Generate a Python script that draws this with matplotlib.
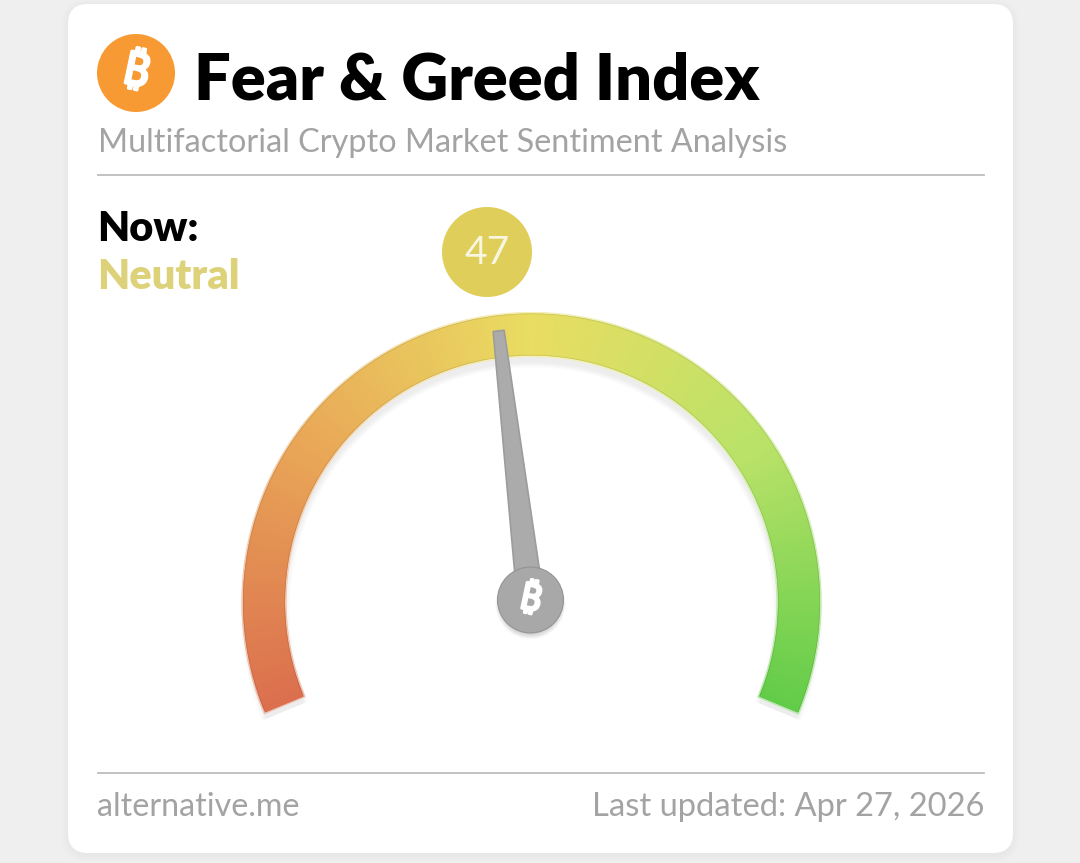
import numpy as np
import matplotlib
matplotlib.use('Agg')
import matplotlib.pyplot as plt
import matplotlib.patheffects as pe
from matplotlib.colors import LinearSegmentedColormap, to_rgb
from matplotlib.patches import Circle, FancyBboxPatch, Polygon, Wedge

value = 47
max_value = 100
sweep = 225
state = 'Neutral'
title = 'Fear & Greed Index'
subtitle = 'Multifactorial Crypto Market Sentiment Analysis'
source = 'alternative.me'
updated = 'Last updated: Apr 27, 2026'
stops = [0, 0.25, 0.5, 0.75, 1]
stop_colors = ['#DB6F4E', '#E9A657', '#E9DD62', '#B9E268', '#62CC49']

CX, CY = 531.5, 602
HX, HY = 530.5, 600
R_OUT, R_IN = 288.5, 246.5

plt.rcParams['font.family'] = ['Lato', 'DejaVu Sans']

fig = plt.figure(figsize=(10.8, 8.63), dpi=100, facecolor='#EFEFEF')
ax = fig.add_axes([0, 0, 1, 1])
ax.set_xlim(0, 1080)
ax.set_ylim(863, 0)
ax.axis('off')

# card with soft shadow
for i in range(8):
    ax.add_patch(FancyBboxPatch((68 - i, 4 - i + 2), 945 + 2 * i, 849 + 2 * i,
                                boxstyle='round,pad=0,rounding_size=%d' % (20 + i),
                                fc='#000000', ec='none', alpha=0.005))
ax.add_patch(FancyBboxPatch((68, 4), 945, 849, boxstyle='round,pad=0,rounding_size=20',
                            fc='white', ec='none'))


def bitcoin(x, y, size, stroke):
    t = ax.text(x, y, '\u20bf', family=['Noto Sans', 'Inter', 'Roboto', 'Open Sans', 'Liberation Sans'],
                fontweight='bold', fontsize=size, color='white', rotation=-12, ha='center', va='center')
    t.set_path_effects([pe.withStroke(linewidth=stroke, foreground='white')])


# header
ax.add_patch(Circle((136, 73), 39, fc='#F79A33', ec='none'))
bitcoin(136, 73, 33, 2)
ax.text(194, 81, title, fontsize=46.7, fontweight='heavy', color='black', va='center', ha='left')
ax.text(97.5, 143, subtitle, fontsize=23.3, color='#A3A3A3', va='center', ha='left')
ax.plot([98, 984], [175, 175], color='#BDBDBD', lw=1.3)

ax.text(97, 229, 'Now:', fontsize=30, fontweight='heavy', color='black', va='center', ha='left')
ax.text(97, 277, state, fontsize=30, fontweight='heavy', color='#DDD27A', va='center', ha='left')

# gauge: angle 0 is straight up, positive clockwise
cmap = LinearSegmentedColormap.from_list('gauge', list(zip(stops, stop_colors)))


def to_theta(frac):
    # data angle for Wedge on the inverted y axis
    return -90 + (frac - 0.5) * sweep


for i in range(6):
    ax.add_patch(Wedge((CX, CY + 7), R_OUT + 3 - i, to_theta(0), to_theta(1),
                       width=R_OUT - R_IN + 8 - 2 * i, fc='black', ec='none', alpha=0.012))
n = 300
for i in range(n):
    f0, f1 = i / n, (i + 1) / n
    c = np.array(cmap((f0 + f1) / 2)[:3])
    halo = c * 0.45 + np.array(to_rgb('white')) * 0.55
    ax.add_patch(Wedge((CX, CY), R_OUT + 1.5, to_theta(f0) - 0.3, to_theta(f1) + 0.4,
                       width=R_OUT - R_IN + 3, fc=halo, ec='none'))
for i in range(n):
    f0, f1 = i / n, (i + 1) / n
    c = np.array(cmap((f0 + f1) / 2)[:3])
    end = min(f1 + 0.004, 1)
    ax.add_patch(Wedge((CX, CY), R_OUT, to_theta(f0), to_theta(end),
                       width=R_OUT - R_IN, fc=c * 0.92, ec='none'))
for i in range(n):
    f0, f1 = i / n, (i + 1) / n
    c = np.array(cmap((f0 + f1) / 2)[:3])
    end = min(f1 + 0.004, 1)
    ax.add_patch(Wedge((CX, CY), R_OUT - 1, to_theta(f0), to_theta(end),
                       width=R_OUT - R_IN - 2, fc=c, ec='none'))

# needle
ang = np.radians((value / max_value - 0.5) * sweep)
ux, uy = np.sin(ang), -np.cos(ang)
px, py = -uy, ux
tip, base = 271, 28
tw, bw = 5.5, 12.5
pts = [(HX + ux * tip + px * tw, HY + uy * tip + py * tw),
       (HX + ux * tip - px * tw, HY + uy * tip - py * tw),
       (HX + ux * base - px * bw, HY + uy * base - py * bw),
       (HX + ux * base + px * bw, HY + uy * base + py * bw)]
ax.add_patch(Polygon(pts, closed=True, fc='#ABABAB', ec='#9C9C9C', lw=1.2, joinstyle='round'))

for i in range(5):
    ax.add_patch(Circle((HX, HY + 4), 35 - i, fc='black', ec='none', alpha=0.03))
ax.add_patch(Circle((HX, HY), 33, fc='#A8A8A8', ec='#949494', lw=0.8))
bitcoin(HX, HY, 27, 1.8)

# value badge
ax.add_patch(Circle((487, 252), 45, fc='#DFCF5A', ec='none'))
ax.text(487, 253, str(value), fontsize=28, color='#F8F6E0', ha='center', va='center')

# footer
ax.plot([98, 984], [773, 773], color='#BDBDBD', lw=1.3)
ax.text(97.5, 807, source, fontsize=23.2, color='#A3A3A3', va='center', ha='left')
ax.text(984, 807, updated, fontsize=23.6, color='#A3A3A3', va='center', ha='right')

fig.savefig('out.png', dpi=100, facecolor=fig.get_facecolor())
